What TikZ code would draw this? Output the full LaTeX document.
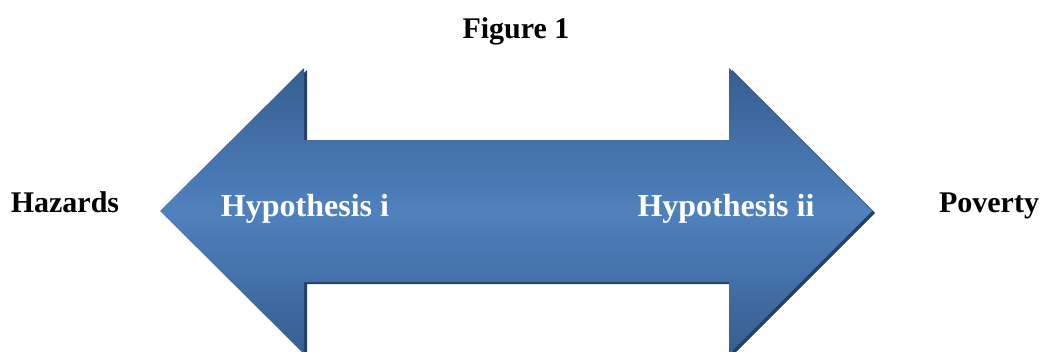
\documentclass[tikz,border=0pt]{standalone}
\usepackage{fontspec}
\setmainfont{Liberation Serif}
\usepackage{tikz}

\definecolor{arrowdark}{RGB}{54,94,145}
\definecolor{arrowmid}{RGB}{79,129,189}
\definecolor{arrowshadow}{RGB}{37,64,97}

\tikzset{
  label text/.style={anchor=base, inner sep=0.75pt, font=\fontsize{30}{36}\selectfont\bfseries},
  arrow text/.style={anchor=base, inner sep=0.75pt, text=white, font=\fontsize{32}{38}\selectfont\bfseries}
}

\begin{document}
\begin{tikzpicture}[x=1pt,y=1pt,yscale=-1,xscale=1]
\useasboundingbox (0,0) rectangle (1043,351);
\clip (0,0) rectangle (1043,351);

%Double arrow shadow
\fill [arrowshadow] (163,213) -- (307,70) -- (307,142) -- (732,142) -- (732,70) -- (875,213) -- (732,356) -- (732,284) -- (307,284) -- (307,356) -- cycle;
%Double arrow
\shade [top color=arrowdark, bottom color=arrowdark, middle color=arrowmid] (160,211) -- (304,68) -- (304,140) -- (729,140) -- (729,68) -- (872,211) -- (729,354) -- (729,282) -- (304,282) -- (304,354) -- cycle;

% Text Node
\node (title) at (516,38) [label text] {Figure 1};
% Text Node
\node (hazards) at (65,212) [label text] {Hazards};
% Text Node
\node (poverty) at (989,212) [label text] {Poverty};
% Text Node
\node (hypi) at (305,216) [arrow text] {Hypothesis i};
% Text Node
\node (hypii) at (726,216) [arrow text] {Hypothesis ii};

\end{tikzpicture}
\end{document}
